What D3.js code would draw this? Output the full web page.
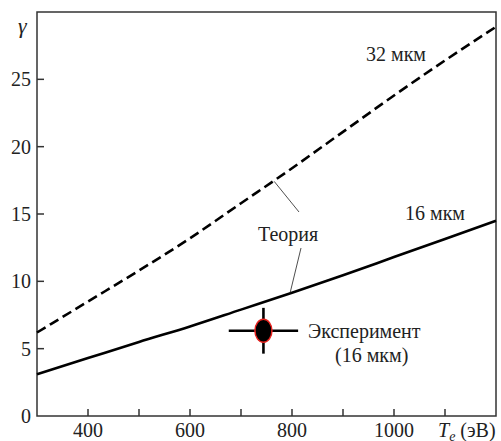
<!DOCTYPE html>
<html>
<head>
<meta charset="utf-8">
<script src="https://cdn.jsdelivr.net/npm/d3@7"></script>
</head>
<body style="margin:0">
<div id="chart"></div>
<script>
// data
const temps = [300, 400, 500, 600, 700, 800, 900, 1000, 1100, 1200]
const gamma32 = [6.2, 8.5, 10.8, 13.2, 15.8, 18.4, 21.1, 23.8, 26.4, 28.9]
const gamma16 = [3.1, 4.3, 5.5, 6.65, 7.9, 9.15, 10.45, 11.8, 13.15, 14.5]
const experiment = { T: 744, g: 6.33, dT: 68, dg: 1.7 }

const xTicks = [400, 500, 600, 700, 800, 900, 1000, 1100]
const xTickLabels = [400, 600, 800, 1000]
const yTicks = [0, 5, 10, 15, 20, 25]

const width = 501, height = 441
const margin = { top: 12, right: 5, bottom: 25, left: 37 }

const svg = d3.select("#chart").append("svg")
  .attr("width", width)
  .attr("height", height)

const x = d3.scaleLinear().domain([300, 1200]).range([margin.left, width - margin.right])
const y = d3.scaleLinear().domain([0, 30]).range([height - margin.bottom, margin.top])

function label(sel, size) {
  return sel.attr("font-family", "Liberation Serif").attr("font-size", size).attr("fill", "#222")
}

// frame
svg.append("rect")
  .attr("x", x(300)).attr("y", y(30))
  .attr("width", x(1200) - x(300)).attr("height", y(0) - y(30))
  .attr("fill", "none").attr("stroke", "#333").attr("stroke-width", 1.5)

// ticks (inward)
svg.append("g").selectAll("line").data(xTicks).join("line")
  .attr("x1", d => x(d)).attr("x2", d => x(d))
  .attr("y1", y(0)).attr("y2", y(0) - 7)
  .attr("stroke", "#333").attr("stroke-width", 1.5)

svg.append("g").selectAll("line").data(yTicks.filter(d => d > 0)).join("line")
  .attr("x1", x(300)).attr("x2", x(300) + 7)
  .attr("y1", d => y(d)).attr("y2", d => y(d))
  .attr("stroke", "#333").attr("stroke-width", 1.5)

// tick labels
svg.append("g").selectAll("text").data(xTickLabels).join("text")
  .call(label, 20)
  .attr("x", d => x(d)).attr("y", 437)
  .attr("text-anchor", "middle")
  .text(d => d)

svg.append("g").selectAll("text").data(yTicks).join("text")
  .call(label, 20)
  .attr("x", 31).attr("y", d => y(d) + 7)
  .attr("text-anchor", "end")
  .text(d => d)

// axis titles
svg.append("text").call(label, 22)
  .attr("x", 18).attr("y", 33)
  .attr("font-style", "italic")
  .text("γ")

const xt = svg.append("text").call(label, 20).attr("x", 438).attr("y", 437)
xt.append("tspan").attr("font-style", "italic").text("T")
xt.append("tspan").attr("font-style", "italic").attr("font-size", 14).attr("dy", 4).text("e")
xt.append("tspan").attr("dy", -4).text(" (эВ)")

// theory curves
const line = d3.line().x(d => x(d[0])).y(d => y(d[1])).curve(d3.curveMonotoneX)

svg.append("path")
  .datum(d3.zip(temps, gamma32))
  .attr("d", line)
  .attr("fill", "none").attr("stroke", "#000").attr("stroke-width", 2.6)
  .attr("stroke-dasharray", "10,5")

svg.append("path")
  .datum(d3.zip(temps, gamma16))
  .attr("d", line)
  .attr("fill", "none").attr("stroke", "#000").attr("stroke-width", 2.6)

// curve labels
svg.append("text").call(label, 20).attr("x", 366).attr("y", 61).text("32 мкм")
svg.append("text").call(label, 20).attr("x", 405).attr("y", 220).text("16 мкм")
svg.append("text").call(label, 20).attr("x", 258).attr("y", 241).text("Теория")

// leader lines from "Теория"
svg.append("line")
  .attr("x1", x(765)).attr("y1", y(17.5) + 1)
  .attr("x2", 299).attr("y2", 212)
  .attr("stroke", "#222").attr("stroke-width", 0.8)
svg.append("line")
  .attr("x1", 301).attr("y1", 248)
  .attr("x2", x(796)).attr("y2", y(9.1))
  .attr("stroke", "#222").attr("stroke-width", 0.8)

// experimental point
const ex = svg.append("g")
ex.append("line")
  .attr("x1", x(experiment.T - experiment.dT)).attr("x2", x(experiment.T + experiment.dT))
  .attr("y1", y(experiment.g)).attr("y2", y(experiment.g))
  .attr("stroke", "#000").attr("stroke-width", 2.6)
ex.append("line")
  .attr("x1", x(experiment.T)).attr("x2", x(experiment.T))
  .attr("y1", y(experiment.g - experiment.dg)).attr("y2", y(experiment.g + experiment.dg))
  .attr("stroke", "#000").attr("stroke-width", 2.6)
ex.append("ellipse")
  .attr("cx", x(experiment.T)).attr("cy", y(experiment.g))
  .attr("rx", 8.5).attr("ry", 11.5)
  .attr("fill", "#000").attr("stroke", "#e8231f").attr("stroke-width", 1.5)

svg.append("text").call(label, 20).attr("x", 308).attr("y", 338).text("Эксперимент")
svg.append("text").call(label, 20).attr("x", 335).attr("y", 362).text("(16 мкм)")
</script>
</body>
</html>
